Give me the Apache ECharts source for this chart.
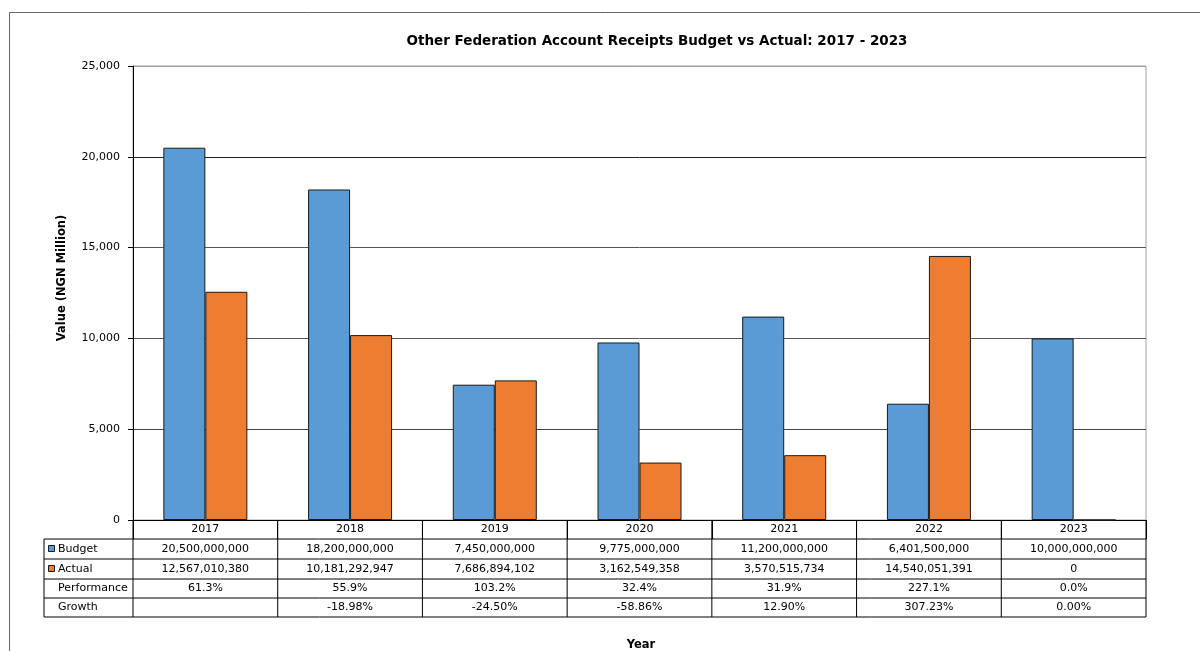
<!DOCTYPE html>
<html>
<head>
<meta charset="utf-8">
<script src="https://cdn.jsdelivr.net/npm/echarts@6/dist/echarts.min.js"></script>
<style>
  html, body { margin: 0; padding: 0; background: #fff; }
  #chart { width: 1200px; height: 651px; }
</style>
</head>
<body>
<div id="chart"></div>
<script>
// Fiscal years shown on the category axis and in the data table
const years = ['2017', '2018', '2019', '2020', '2021', '2022', '2023'];
// Receipts in NGN
const budgetNGN = [20500000000, 18200000000, 7450000000, 9775000000, 11200000000, 6401500000, 10000000000];
const actualNGN = [12567010380, 10181292947, 7686894102, 3162549358, 3570515734, 14540051391, 0];
// Table rows as published
const performance = ['61.3%', '55.9%', '103.2%', '32.4%', '31.9%', '227.1%', '0.0%'];
const growth = ['', '-18.98%', '-24.50%', '-58.86%', '12.90%', '307.23%', '0.00%'];
// Value axis (NGN Million)
const yMin = 0, yMax = 25000, yStep = 5000;

const FONT = 'DejaVu Sans';
const BLUE = '#5B9BD5';
const ORANGE = '#ED7D31';

const GRID = { left: 133, right: 54, top: 66, bottom: 131 };
const W = 1200, H = 651;
const plotRight = W - GRID.right;
const plotBottom = H - GRID.bottom;
// table row boundaries below the category axis
const rowLines = [539, 559, 579, 598, 617];
const tableLeft = 44;

const toMillion = v => v / 1e6;
const fmt = v => v.toLocaleString('en-US');

const chart = echarts.init(document.getElementById('chart'), null, { renderer: 'canvas' });

chart.setOption({
  animation: false,
  backgroundColor: '#fff',
  textStyle: { fontFamily: FONT },
  title: {
    text: 'Other Federation Account Receipts Budget vs Actual: 2017 - 2023',
    left: 652,
    top: 29,
    textAlign: 'center',
    textStyle: { fontFamily: FONT, fontSize: 13.5, fontWeight: 'bold', color: '#000' }
  },
  grid: {
    left: GRID.left, right: GRID.right, top: GRID.top, bottom: GRID.bottom,
    show: true, borderColor: '#a0a0a0', borderWidth: 1
  },
  xAxis: {
    type: 'category',
    data: years,
    axisLine: { lineStyle: { color: '#000', width: 1 } },
    axisTick: { show: true, interval: 0, length: 19, inside: false, lineStyle: { color: '#000' } },
    axisLabel: { interval: 0, margin: 4, fontFamily: FONT, fontSize: 11, color: '#000' },
    splitLine: { show: false }
  },
  yAxis: {
    type: 'value',
    min: yMin, max: yMax, interval: yStep,
    axisLine: { show: true, lineStyle: { color: '#000' } },
    axisTick: { show: true, length: 5, lineStyle: { color: '#000' } },
    axisLabel: { margin: 13, fontFamily: FONT, fontSize: 11, color: '#000', formatter: v => fmt(v) },
    splitLine: { show: true, lineStyle: { color: ['#000', '#444', '#555', '#555', '#222', '#a0a0a0'], width: 1 } }
  },
  series: [
    {
      name: 'Budget', type: 'bar', barWidth: 42, barGap: '0%',
      data: budgetNGN.map(toMillion),
      itemStyle: { color: BLUE, borderColor: '#1a1a1a', borderWidth: 1 }
    },
    {
      name: 'Actual', type: 'bar', barWidth: 42, barGap: '0%',
      data: actualNGN.map(toMillion),
      itemStyle: { color: ORANGE, borderColor: '#1a1a1a', borderWidth: 1 }
    }
  ]
});

// Data table under the plot, aligned to the category axis
function buildTable() {
  const g = [];
  const centers = years.map(y => chart.convertToPixel({ xAxisIndex: 0 }, y));
  const colW = (plotRight - GRID.left) / years.length;
  const bounds = [GRID.left];
  for (let i = 1; i <= years.length; i++) bounds.push(GRID.left + colW * i);

  const line = (x1, y1, x2, y2, c) => ({
    type: 'line', silent: true, z: 50,
    shape: { x1, y1, x2, y2 },
    style: { stroke: c || '#000', lineWidth: 1 }
  });
  const text = (x, y, t, align, opts) => Object.assign({
    type: 'text', silent: true, z: 60,
    x, y,
    style: Object.assign({
      text: t, fill: '#000', font: '11px "' + FONT + '"',
      align: align || 'center', verticalAlign: 'middle'
    }, opts || {})
  });

  // horizontal rules
  rowLines.forEach(y => g.push(line(tableLeft, y, plotRight, y)));
  // vertical rules
  g.push(line(tableLeft, rowLines[0], tableLeft, rowLines[rowLines.length - 1]));
  bounds.forEach(x => g.push(line(x, plotBottom, x, rowLines[rowLines.length - 1])));

  const rows = [
    { label: 'Budget', key: BLUE, values: budgetNGN.map(fmt) },
    { label: 'Actual', key: ORANGE, values: actualNGN.map(fmt) },
    { label: 'Performance', values: performance },
    { label: 'Growth', values: growth }
  ];
  rows.forEach((r, ri) => {
    const cy = (rowLines[ri] + rowLines[ri + 1]) / 2;
    if (r.key) {
      g.push({
        type: 'rect', silent: true, z: 60,
        shape: { x: 48.5, y: Math.round(cy - 4) + 0.5, width: 6, height: 6 },
        style: { fill: r.key, stroke: '#1a1a1a', lineWidth: 1 }
      });
    }
    g.push(text(58, cy, r.label, 'left'));
    r.values.forEach((v, ci) => g.push(text(centers[ci], cy, v)));
  });

  // axis titles
  g.push(text(62, 278, 'Value (NGN Million)', 'center', { font: 'bold 11.5px "' + FONT + '"' }));
  g[g.length - 1].rotation = Math.PI / 2;
  g.push(text(641, 645, 'Year', 'center', { font: 'bold 11.5px "' + FONT + '"' }));

  // outer frame
  g.push({
    type: 'polyline', silent: true, z: 40,
    shape: { points: [[9.5, H + 5], [9.5, 12.5], [W + 5, 12.5]] },
    style: { stroke: '#666', lineWidth: 1, fill: null }
  });

  chart.setOption({ graphic: g });
}
buildTable();
</script>
</body>
</html>
